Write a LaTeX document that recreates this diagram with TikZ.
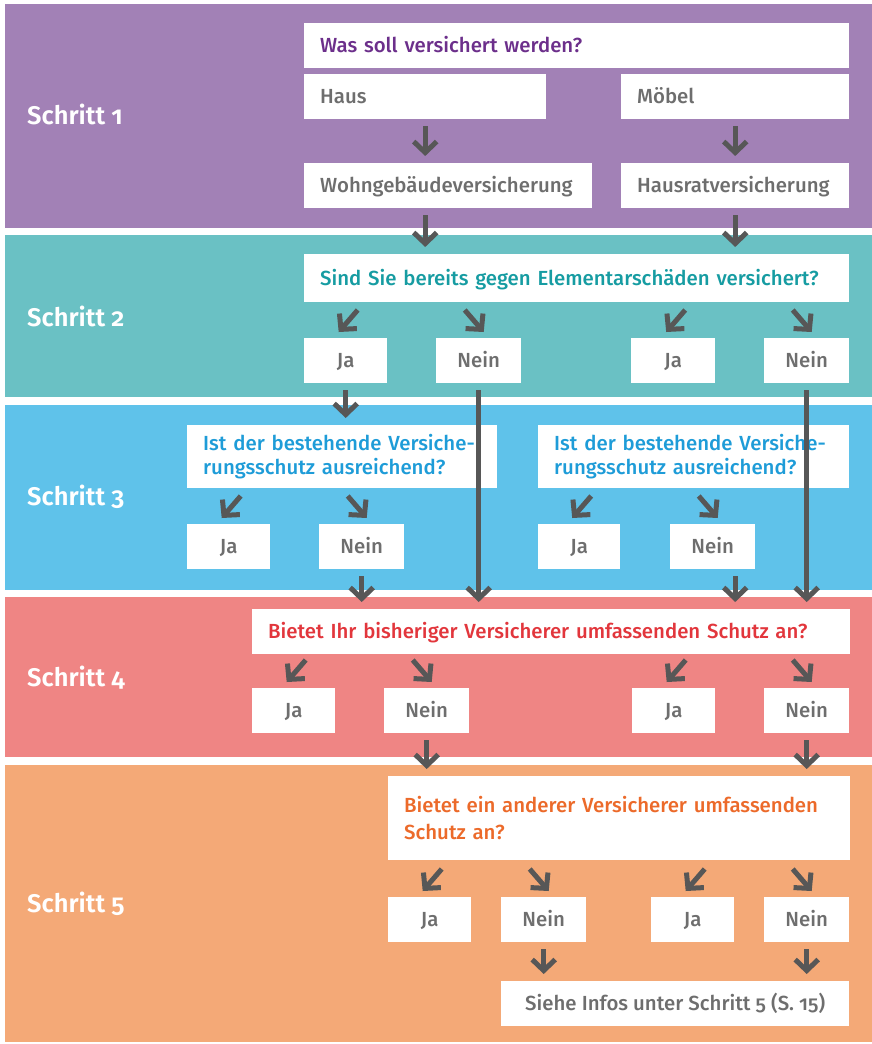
\documentclass[tikz,border=0pt]{standalone}
\usepackage{fontspec}
\setmainfont{Fira Sans}[Numbers=OldStyle, UprightFont=* Medium, BoldFont=* SemiBold]
\usetikzlibrary{arrows.meta}
\definecolor{bandone}{HTML}{A281B6}
\definecolor{bandtwo}{HTML}{6AC1C4}
\definecolor{bandthree}{HTML}{5FC2EA}
\definecolor{bandfour}{HTML}{EF8584}
\definecolor{bandfive}{HTML}{F4A977}
\definecolor{qone}{HTML}{6C2F8B}
\definecolor{qtwo}{HTML}{169CA2}
\definecolor{qthree}{HTML}{1E9CD8}
\definecolor{qfour}{HTML}{E2363C}
\definecolor{qfive}{HTML}{EC6A2A}
\definecolor{txtgray}{HTML}{6E6E6E}
\definecolor{arrgray}{HTML}{575757}
\begin{document}
\begin{tikzpicture}[x=1pt, y=-1pt, line join=miter, >={Straight Barb[length=11pt, width=23pt]},
	arr/.style={draw=arrgray, line width=5pt, ->},
	varr/.style={arr, shorten <=7pt, shorten >=7pt},
	box/.style={fill=white, anchor=north west, inner xsep=16pt, inner ysep=0pt, minimum height=45pt, text=txtgray, font=\fontsize{20.4}{24}\selectfont},
	lbox/.style={box, text width=#1, align=left, text height=14pt, text depth=0pt},
	abox/.style={box, minimum width=#1, inner xsep=0pt, text height=14pt, text depth=0pt},
	mbox/.style={box, text width=#1, align=left},
	steplabel/.style={anchor=west, inner sep=0pt, text=white, font=\bfseries\fontsize{25.5}{30}\selectfont, text height=17pt, text depth=0pt}]
	\useasboundingbox (0,0) rectangle (872,1044);
	\fill [white] (0,0) rectangle (872,1044);
	% the five steps
	\fill [bandone] (5,4) rectangle (872,228);
	\fill [bandtwo] (5,235) rectangle (872,397);
	\fill [bandthree] (5,405) rectangle (872,590);
	\fill [bandfour] (5,597) rectangle (872,757);
	\fill [bandfive] (5,765) rectangle (872,1042);
	\node [steplabel] (s1) at (27,116) {Schritt 1};
	\node [steplabel] (s2) at (27,318) {Schritt 2};
	\node [steplabel] (s3) at (27,497) {Schritt 3};
	\node [steplabel] (s4) at (27,678) {Schritt 4};
	\node [steplabel] (s5) at (27,904) {Schritt 5};
	% step 1
	\node [lbox=513pt, text=qone] (q1) at (304,23) {Was soll versichert werden?};
	\node [lbox=210pt] (haus) at (304,74) {Haus};
	\node [lbox=196pt] (moebel) at (621,74) {Möbel};
	\node [lbox=256pt] (wohn) at (304,163) {Wohngebäudeversicherung};
	\node [lbox=196pt] (hausrat) at (621,163) {Hausratversicherung};
	% step 2
	\node [lbox=513pt, minimum height=48pt, text=qtwo] (q2) at (304,254) {Sind Sie bereits gegen Elementarschäden versichert?};
	\node [abox=83pt] (ja21) at (304,338) {Ja};
	\node [abox=85pt] (nein21) at (436,338) {Nein};
	\node [abox=84pt] (ja22) at (631,338) {Ja};
	\node [abox=85pt] (nein22) at (764,338) {Nein};
	% step 3
	\node [mbox=278pt, minimum height=63pt, text=qthree] (q3a) at (187,425) {Ist der bestehende Versiche-\\rungsschutz ausreichend?};
	\node [mbox=279pt, minimum height=63pt, text=qthree] (q3b) at (538,425) {Ist der bestehende Versiche-\\rungsschutz ausreichend?};
	\node [abox=83pt] (ja31) at (187,524) {Ja};
	\node [abox=85pt] (nein31) at (319,524) {Nein};
	\node [abox=82pt] (ja32) at (538,524) {Ja};
	\node [abox=85pt] (nein32) at (670,524) {Nein};
	% step 4
	\node [lbox=566pt, text=qfour] (q4) at (252,609) {Bietet Ihr bisheriger Versicherer umfassenden Schutz an?};
	\node [abox=83pt] (ja41) at (252,688) {Ja};
	\node [abox=85pt] (nein41) at (384,688) {Nein};
	\node [abox=83pt] (ja42) at (632,688) {Ja};
	\node [abox=85pt] (nein42) at (764,688) {Nein};
	% step 5
	\node [mbox=430pt, minimum height=84pt, text=qfive, font=\fontsize{20.4}{27}\selectfont] (q5) at (388,776) {Bietet ein anderer Versicherer umfassenden\\Schutz an?};
	\node [abox=83pt] (ja51) at (388,897) {Ja};
	\node [abox=85pt] (nein51) at (501,897) {Nein};
	\node [abox=83pt] (ja52) at (651,897) {Ja};
	\node [abox=85pt] (nein52) at (764,897) {Nein};
	\node [abox=348pt] (info) at (501,981) {Siehe Infos unter Schritt 5 (S. 15)};
	% arrows
	\draw [varr] (haus.south) -- (haus.south |- wohn.north);
	\draw [varr] (moebel.south) -- (moebel.south |- hausrat.north);
	\draw [varr] (haus.south |- wohn.south) -- (haus.south |- q2.north);
	\draw [varr] (moebel.south |- hausrat.south) -- (moebel.south |- q2.north);
	\draw [varr] (ja21.south) -- (ja21.south |- q3a.north);
	\draw [varr] (nein21.south) -- (nein21.south |- q4.north);
	\draw [varr] (nein22.south) -- (nein22.south |- q4.north);
	\draw [varr] (nein31.south) -- (nein31.south |- q4.north);
	\draw [varr] (moebel.south |- nein32.south) -- (moebel.south |- q4.north);
	\draw [varr] (nein41.south) -- (nein41.south |- q5.north);
	\draw [varr] (nein42.south) -- (nein42.south |- q5.north);
	\draw [varr] (nein51.south) -- (nein51.south |- info.north);
	\draw [varr] (nein52.south) -- (nein52.south |- info.north);
	\foreach \n in {ja21,ja22,ja31,ja32,ja41,ja42,ja51,ja52}
		\draw [arr] ([shift={(12,-28)}]\n.north) -- ([shift={(-7,-6)}]\n.north);
	\foreach \n in {nein21,nein22,nein31,nein32,nein41,nein42,nein51,nein52}
		\draw [arr] ([shift={(-14,-28)}]\n.north) -- ([shift={(5,-6)}]\n.north);
\end{tikzpicture}
\end{document}
